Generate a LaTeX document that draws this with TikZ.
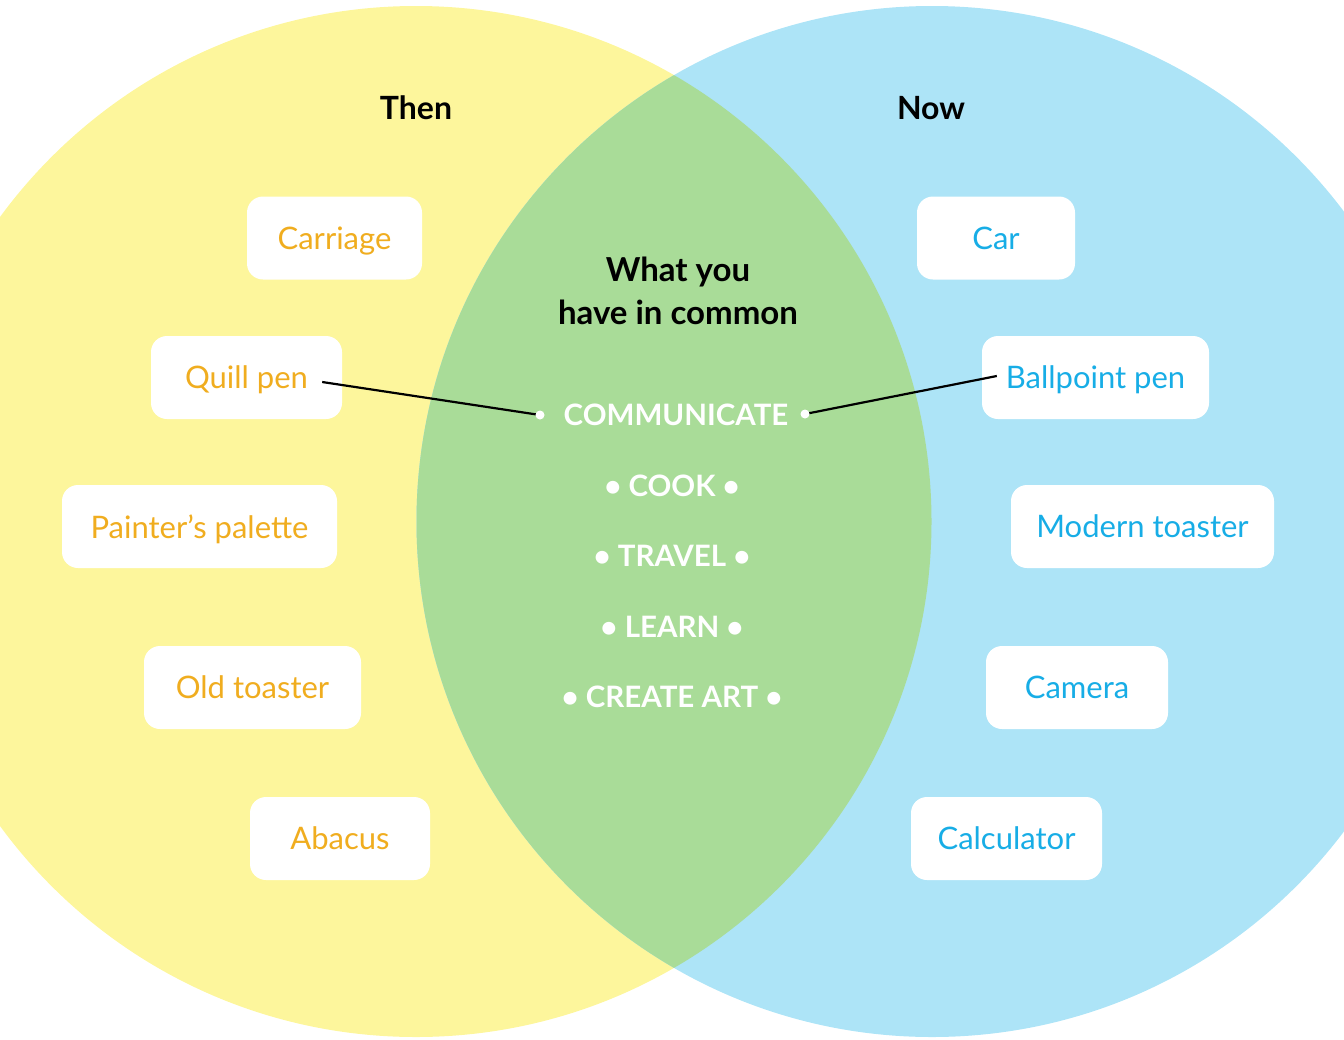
\documentclass[tikz,border=0pt]{standalone}
\usepackage{fontspec}
\setmainfont{Lato}
\usetikzlibrary{positioning}
\definecolor{thenfill}{HTML}{FDF69C}
\definecolor{nowfill}{HTML}{ADE4F7}
\definecolor{bothfill}{HTML}{A9DC98}
\definecolor{thentext}{HTML}{F0AD1F}
\definecolor{nowtext}{HTML}{17ADE6}
\begin{document}
\begin{tikzpicture}[x=1pt,y=-1pt,
    item/.style={fill=white, rounded corners=16pt, minimum height=83pt, inner sep=0pt,
      text depth=0pt, font=\fontsize{31}{36}\selectfont},
    olditem/.style={item, text=thentext},
    newitem/.style={item, text=nowtext},
    head/.style={font=\fontsize{32}{43}\selectfont\bfseries, align=center},
    shared/.style={text=white, font=\fontsize{29.5}{34}\selectfont\bfseries},
    bullet/.style={circle, fill=white, inner sep=0pt, minimum size=9pt}]
  \useasboundingbox (0,0) rectangle (1344,1039);
  \clip (0,0) rectangle (1344,1039);
  % circles
  \fill[thenfill] (416,521.5) circle (515.5);
  \fill[nowfill] (932,521.5) circle (515.5);
  \begin{scope}
    \clip (416,521.5) circle (515.5);
    \fill[bothfill] (932,521.5) circle (515.5);
  \end{scope}
  % headings
  \node[head] (then) at (416,108) {Then};
  \node[head] (now) at (931,108) {Now};
  \node[head, font=\fontsize{33}{43}\selectfont\bfseries] (common) at (678,291) {What you\\have in common};
  % then
  \node[olditem, minimum width=175pt] (carriage) at (334.5,238) {Carriage};
  \node[olditem, minimum width=191pt] (quill) at (246.5,377.5) {Quill pen};
  \node[olditem, minimum width=275pt] (palette) at (199.5,526.5) {Painter’s palette};
  \node[olditem, minimum width=217pt] (oldtoaster) at (252.5,687.5) {Old toaster};
  \node[olditem, minimum width=180pt] (abacus) at (340,838.5) {Abacus};
  % now
  \node[newitem, minimum width=158pt] (car) at (996,238) {Car};
  \node[newitem, minimum width=227pt] (ballpoint) at (1095.5,377.5) {Ballpoint pen};
  \node[newitem, minimum width=263pt] (newtoaster) at (1142.5,526.5) {Modern toaster};
  \node[newitem, minimum width=182pt] (camera) at (1077,687.5) {Camera};
  \node[newitem, minimum width=191pt] (calculator) at (1006.5,838.5) {Calculator};
  % in common
  \node[shared] (communicate) at (676,415) {COMMUNICATE};
  \coordinate (commL) at (540,415);
  \coordinate (commR) at (805,414);
  \node[shared] (cook) at (672,486) {• COOK •};
  \node[shared] (travel) at (672,556) {• TRAVEL •};
  \node[shared] (learn) at (672,627) {• LEARN •};
  \node[shared] (createart) at (672,697) {• CREATE ART •};
  % connectors
  \draw[line width=2.2pt] ([xshift=-20pt,yshift=-4.5pt]quill.east) -- (commL);
  \draw[line width=2.2pt] ([xshift=15pt,yshift=1.5pt]ballpoint.west) -- (commR);
  \node[bullet] at (commL) {};
  \node[bullet] at (commR) {};
\end{tikzpicture}
\end{document}
